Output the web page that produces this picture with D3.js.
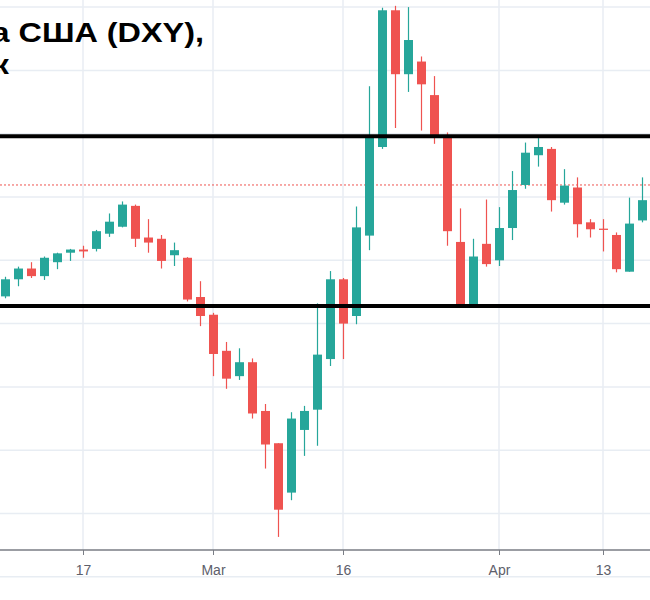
<!DOCTYPE html>
<html>
<head>
<meta charset="utf-8">
<script src="https://cdn.jsdelivr.net/npm/d3@7"></script>
<style>
  html, body { margin: 0; padding: 0; background: #ffffff; }
  svg { display: block; }
</style>
</head>
<body>
<div id="chart"></div>
<script>
// ---- data (DXY daily candles, Feb–Apr 2020) ----
const dates = [
  "2020-02-07","2020-02-10","2020-02-11","2020-02-12","2020-02-13","2020-02-14",
  "2020-02-17","2020-02-18","2020-02-19","2020-02-20","2020-02-21",
  "2020-02-24","2020-02-25","2020-02-26","2020-02-27","2020-02-28",
  "2020-03-02","2020-03-03","2020-03-04","2020-03-05","2020-03-06",
  "2020-03-09","2020-03-10","2020-03-11","2020-03-12","2020-03-13",
  "2020-03-16","2020-03-17","2020-03-18","2020-03-19","2020-03-20",
  "2020-03-23","2020-03-24","2020-03-25","2020-03-26","2020-03-27",
  "2020-03-30","2020-03-31","2020-04-01","2020-04-02","2020-04-03",
  "2020-04-06","2020-04-07","2020-04-08","2020-04-09","2020-04-10",
  "2020-04-13","2020-04-14","2020-04-15","2020-04-16"
];
const open = [
  98.43, 98.70, 98.87, 98.75, 98.97, 99.12,
  99.17, 99.18, 99.42, 99.53, 99.86,
  99.36, 99.34, 99.08, 99.04, 98.42,
  98.14, 97.57, 97.17, 97.39, 96.62,
  96.11, 95.33, 96.32, 96.64, 97.44,
  98.70, 98.12, 99.39, 100.79, 102.95,
  101.94, 102.14, 101.61, 100.98, 99.29,
  98.28, 99.26, 99.00, 99.51, 100.19,
  100.66, 100.76, 99.91, 100.15, 99.60,
  99.50, 99.40, 98.82, 99.63
];
const high = [
  98.74, 98.90, 98.97, 99.06, 99.12, 99.18,
  99.23, 99.48, 99.74, 99.93, 99.88,
  99.65, 99.40, 99.28, 99.05, 98.67,
  98.17, 97.71, 97.61, 97.45, 96.73,
  96.11, 96.60, 96.70, 98.32, 98.83,
  98.72, 99.85, 101.75, 102.99, 103.02,
  103.00, 102.22, 101.91, 101.02, 99.82,
  99.34, 99.96, 99.84, 100.41, 100.86,
  100.93, 100.79, 100.44, 100.31, 99.65,
  99.65, 99.44, 99.99, 100.31
];
const low = [
  98.40, 98.59, 98.72, 98.69, 98.86, 98.99,
  99.04, 99.14, 99.37, 99.52, 99.21,
  99.12, 98.87, 98.91, 98.35, 97.96,
  97.17, 96.97, 97.11, 96.50, 95.71,
  94.63, 95.21, 95.91, 96.07, 97.33,
  97.44, 97.99, 99.16, 100.76, 101.09,
  101.66, 101.05, 100.84, 99.23, 98.27,
  98.27, 98.90, 98.91, 99.32, 100.13,
  100.48, 99.77, 99.88, 99.36, 99.36,
  99.14, 98.81, 98.82, 99.60
];
const close = [
  98.70, 98.87, 98.75, 99.04, 99.11, 99.17,
  99.14, 99.46, 99.61, 99.88, 99.34,
  99.28, 98.99, 99.16, 98.38, 98.12,
  97.52, 97.13, 97.39, 96.58, 96.09,
  95.06, 96.50, 96.62, 97.51, 98.70,
  98.00, 99.52, 100.94, 102.95, 101.94,
  102.48, 101.78, 100.98, 99.46, 98.29,
  99.06, 98.94, 99.51, 100.11, 100.70,
  100.79, 99.95, 100.18, 99.57, 99.49,
  99.48, 98.86, 99.58, 99.95
];
const tickDates  = ["2020-02-17","2020-03-02","2020-03-16","2020-04-01","2020-04-13"];
const tickLabels = ["17","Mar","16","Apr","13"];
const gridValues = [94, 95, 96, 97, 98, 99, 100, 101, 102, 103];
const levels = [100.96, 98.28];
const lastPrice = 100.19;
const titleLines = ["Индекс доллара США (DXY),", "дневной график"];

// ---- layout ----
const W = 650, H = 600;
const axisY = 550;
const UP = "#26a69a", DOWN = "#ef5350";

const candles = dates.map((d, i) => ({ d, o: open[i], h: high[i], l: low[i], c: close[i] }));

const x = d3.scalePoint().domain(dates).range([5, 642]);
const y = d3.scaleLinear().domain([94, 103]).range([576.8, 7.1]);

const svg = d3.select("#chart").append("svg")
  .attr("width", W).attr("height", H)
  .style("font-family", "'Liberation Sans', Arial, sans-serif");

svg.append("rect").attr("width", W).attr("height", H).attr("fill", "#fff");

// grid
const grid = svg.append("g");
grid.selectAll("line.h").data(gridValues).join("line")
  .attr("x1", 0).attr("x2", W)
  .attr("y1", d => y(d)).attr("y2", d => y(d))
  .attr("stroke", "#e8edf3").attr("stroke-width", 1.5);
grid.selectAll("line.v").data(tickDates).join("line")
  .attr("x1", d => x(d)).attr("x2", d => x(d))
  .attr("y1", 0).attr("y2", axisY)
  .attr("stroke", "#e8edf3").attr("stroke-width", 1.5);

// title
const title = svg.append("g");
titleLines.forEach((t, i) => {
  title.append("text")
    .attr("transform", i === 0 ? "translate(204,41.7) scale(1.2,1)" : "translate(9,74) scale(1.2,1)")
    .attr("text-anchor", "end")
    .attr("font-size", 27).attr("font-weight", "bold").attr("fill", "#000")
    .text(t);
});

// last price dashed line
svg.append("line")
  .attr("x1", 0).attr("x2", W)
  .attr("y1", y(lastPrice)).attr("y2", y(lastPrice))
  .attr("stroke", DOWN).attr("stroke-width", 1).attr("stroke-dasharray", "2,2");

// candles
const bw = 9;
const cg = svg.append("g").selectAll("g").data(candles).join("g");
cg.append("line")
  .attr("x1", d => Math.round(x(d.d)) + 0.5).attr("x2", d => Math.round(x(d.d)) + 0.5)
  .attr("y1", d => y(d.h)).attr("y2", d => y(d.l))
  .attr("stroke", d => d.c >= d.o ? UP : DOWN).attr("stroke-width", 1.2);
cg.append("rect")
  .attr("x", d => Math.round(x(d.d)) + 0.5 - bw / 2)
  .attr("width", bw)
  .attr("y", d => y(Math.max(d.o, d.c)))
  .attr("height", d => Math.max(1, Math.abs(y(d.o) - y(d.c))))
  .attr("fill", d => d.c >= d.o ? UP : DOWN);

// horizontal levels
svg.append("g").selectAll("line").data(levels).join("line")
  .attr("x1", 0).attr("x2", W)
  .attr("y1", d => y(d)).attr("y2", d => y(d))
  .attr("stroke", "#000").attr("stroke-width", 4);

// x axis
const axis = d3.axisBottom(x)
  .tickValues(tickDates)
  .tickFormat((d, i) => tickLabels[i])
  .tickSize(5).tickSizeOuter(0).tickPadding(10);
const ax = svg.append("g").attr("transform", `translate(0,${axisY})`).call(axis);
ax.select(".domain").attr("stroke", "#7a7d85").attr("stroke-width", 1.5).attr("d", `M0,0H${W}`);
ax.selectAll(".tick line").attr("stroke", "#7a7d85");
ax.selectAll(".tick text").attr("fill", "#5d606b").attr("font-size", 14)
  .attr("font-family", "'Liberation Sans', Arial, sans-serif");
</script>
</body>
</html>
